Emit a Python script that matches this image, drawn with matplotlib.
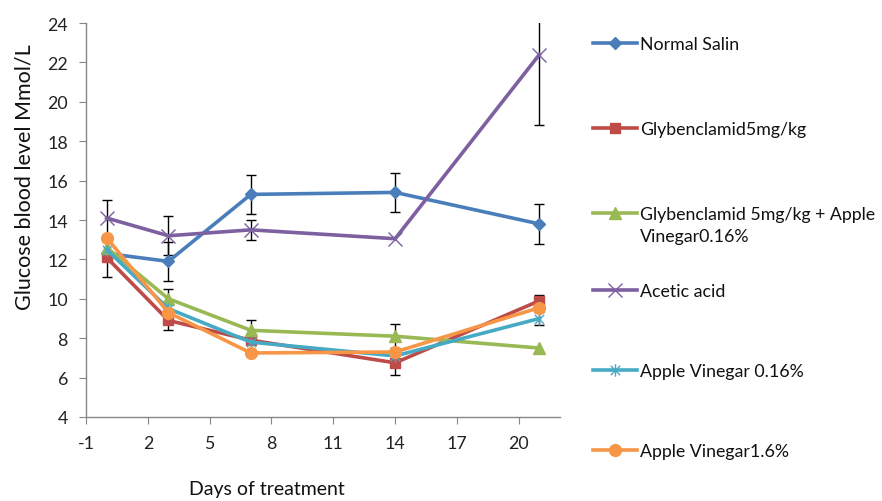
import numpy as np
import matplotlib
matplotlib.use("Agg")
import matplotlib.pyplot as plt
from matplotlib.path import Path
from matplotlib.lines import Line2D

days = [0, 3, 7, 14, 21]
series_names = ["Normal Salin", "Glybenclamid5mg/kg", "Glybenclamid 5mg/kg + Apple",
                "Acetic acid", "Apple Vinegar 0.16%", "Apple Vinegar1.6%"]
normal_salin = [12.3, 11.9, 15.3, 15.4, 13.8]
glyben = [12.1, 8.9, 7.9, 6.75, 9.9]
glyben_apple = [12.6, 10.0, 8.4, 8.1, 7.5]
acetic = [14.1, 13.2, 13.5, 13.05, 22.4]
apple_016 = [12.5, 9.5, 7.8, 7.1, 9.0]
apple_16 = [13.1, 9.3, 7.25, 7.3, 9.55]

err_normal = [0.0, 1.0, 1.0, 1.0, 1.0]
err_glyben = [1.0, 0.5, 0.0, 0.6, 0.3]
err_glyben_apple = [0.0, 0.5, 0.5, 0.6, 0.0]
err_acetic = [0.9, 1.0, 0.5, 0.0, 3.6]
err_apple_016 = [0.0, 0.0, 0.0, 0.0, 0.35]
err_apple_16 = [0.0, 0.0, 0.0, 0.0, 0.0]

xticks = [-1, 2, 5, 8, 11, 14, 17, 20]
yticks = [4, 6, 8, 10, 12, 14, 16, 18, 20, 22, 24]

asterisk = Path([(0, -1), (0, 1), (-0.75, -0.75), (0.75, 0.75), (-0.75, 0.75), (0.75, -0.75)],
                [Path.MOVETO, Path.LINETO, Path.MOVETO, Path.LINETO, Path.MOVETO, Path.LINETO])

colors = ["#4A7EBB", "#BE4B48", "#98B954", "#7D60A0", "#46AAC5", "#F79646"]
markers = ["D", "s", "^", "x", asterisk, "o"]
msizes = [6.5, 7, 8, 10, 9, 8.5]
values = [normal_salin, glyben, glyben_apple, acetic, apple_016, apple_16]
errors = [err_normal, err_glyben, err_glyben_apple, err_acetic, err_apple_016, err_apple_16]

plt.rcParams['font.family'] = ['Lato', 'DejaVu Sans']
FS_TICK = 12.8
FS_LEG = 12.8

fig = plt.figure(figsize=(8.82, 5.02), dpi=100)
ax = fig.add_axes([86/882, 1-418/502, (560-86)/882, (418-24)/502])

x = np.array(days, dtype=float)
for v, e in zip(values, errors):
    v = np.array(v); e = np.array(e)
    m = e > 0
    ax.errorbar(x[m], v[m], yerr=e[m], fmt='none', ecolor='black', elinewidth=1.0,
                capsize=3.5, capthick=1.0, zorder=1, clip_on=True)

handles = []
for i, (v, c, mk, ms) in enumerate(zip(values, colors, markers, msizes)):
    ln, = ax.plot(days, v, color=c, lw=2.6, marker=mk, markersize=ms,
                  markerfacecolor=c, markeredgecolor=c,
                  markeredgewidth=1.0, zorder=2 + i,
                  solid_joinstyle='round', clip_on=False)
    handles.append(ln)

ax.set_xlim(-1, 22)
ax.set_ylim(4, 24)
ax.set_xticks(xticks)
ax.set_yticks(yticks)
ax.set_xticklabels([str(t) for t in xticks], fontsize=FS_TICK, color='#222222')
ax.set_yticklabels([str(t) for t in yticks], fontsize=FS_TICK, color='#222222')
for s in ['top', 'right']:
    ax.spines[s].set_visible(False)
for s in ['left', 'bottom']:
    ax.spines[s].set_color('#868686')
    ax.spines[s].set_linewidth(1.0)
ax.tick_params(axis='x', direction='out', length=5, color='#868686', pad=8)
ax.tick_params(axis='y', direction='out', length=5, color='#868686', pad=8)

ax.set_xlabel("Days of treatment", fontsize=14, color='#111111')
ax.xaxis.set_label_coords((267-86)/474, -0.160)
ax.set_ylabel("Glucose blood level Mmol/L", fontsize=15.5, color='#111111')
ax.yaxis.set_label_coords(-0.108, (418-177)/394)

leg_y = [45, 130, 215, 292, 372, 452]
for h, name, yy in zip(handles, series_names, leg_y):
    lh = Line2D([], [], color=h.get_color(), lw=2.6, marker=h.get_marker(),
                markersize=h.get_markersize(), markerfacecolor=h.get_color(),
                markeredgecolor=h.get_color(), markeredgewidth=1.0)
    fig.legend(handles=[lh], labels=[name], loc='center left',
               bbox_to_anchor=(593/882, 1-yy/502), frameon=False, fontsize=FS_LEG,
               borderpad=0, borderaxespad=0, handlelength=2.45, handletextpad=0.22,
               labelcolor='#111111')
fig.text(640/882, 1-237/502, "Vinegar0.16%", fontsize=FS_LEG, va='center', ha='left',
         color='#111111')

fig.savefig("out.png", dpi=100)
